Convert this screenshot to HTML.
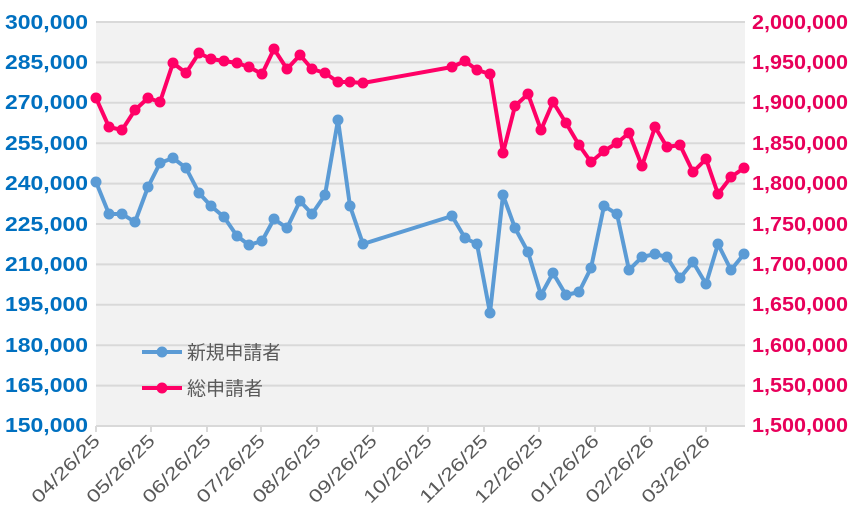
<!DOCTYPE html>
<html><head><meta charset="utf-8"><style>
html,body{margin:0;padding:0;background:#fff;}
svg{display:block;}
.l{font:bold 20px "Liberation Sans",sans-serif;fill:#0070C0;}
.r{font:bold 20px "Liberation Sans",sans-serif;fill:#E8005A;}
.x{font:18px "Liberation Sans",sans-serif;fill:#595959;}
.lg{font:19px "Liberation Sans","Noto Sans CJK JP",sans-serif;fill:#595959;}
</style></head><body>
<svg width="851" height="520" viewBox="0 0 851 520">
<rect x="96" y="22" width="649" height="404" fill="#f2f2f2"/>
<g stroke="#d9d9d9" stroke-width="2">
<line x1="96" y1="22" x2="745" y2="22"/><line x1="96" y1="62.4" x2="745" y2="62.4"/><line x1="96" y1="102.8" x2="745" y2="102.8"/><line x1="96" y1="143.2" x2="745" y2="143.2"/><line x1="96" y1="183.6" x2="745" y2="183.6"/><line x1="96" y1="224" x2="745" y2="224"/><line x1="96" y1="264.4" x2="745" y2="264.4"/><line x1="96" y1="304.8" x2="745" y2="304.8"/><line x1="96" y1="345.2" x2="745" y2="345.2"/><line x1="96" y1="385.6" x2="745" y2="385.6"/><line x1="96" y1="426" x2="745" y2="426"/>
<line x1="96" y1="426" x2="96" y2="432"/><line x1="151" y1="426" x2="151" y2="432"/><line x1="207" y1="426" x2="207" y2="432"/><line x1="261" y1="426" x2="261" y2="432"/><line x1="317" y1="426" x2="317" y2="432"/><line x1="373" y1="426" x2="373" y2="432"/><line x1="428" y1="426" x2="428" y2="432"/><line x1="484" y1="426" x2="484" y2="432"/><line x1="539" y1="426" x2="539" y2="432"/><line x1="595" y1="426" x2="595" y2="432"/><line x1="650" y1="426" x2="650" y2="432"/><line x1="706" y1="426" x2="706" y2="432"/>
</g>
<g class="l">
<text x="5" y="29" textLength="83" lengthAdjust="spacingAndGlyphs">300,000</text><text x="5" y="69" textLength="83" lengthAdjust="spacingAndGlyphs">285,000</text><text x="5" y="109" textLength="83" lengthAdjust="spacingAndGlyphs">270,000</text><text x="5" y="150" textLength="83" lengthAdjust="spacingAndGlyphs">255,000</text><text x="5" y="190" textLength="83" lengthAdjust="spacingAndGlyphs">240,000</text><text x="5" y="231" textLength="83" lengthAdjust="spacingAndGlyphs">225,000</text><text x="5" y="271" textLength="83" lengthAdjust="spacingAndGlyphs">210,000</text><text x="5" y="311" textLength="83" lengthAdjust="spacingAndGlyphs">195,000</text><text x="5" y="352" textLength="83" lengthAdjust="spacingAndGlyphs">180,000</text><text x="5" y="392" textLength="83" lengthAdjust="spacingAndGlyphs">165,000</text><text x="5" y="432" textLength="83" lengthAdjust="spacingAndGlyphs">150,000</text>
</g>
<g class="r">
<text x="752" y="29" textLength="96" lengthAdjust="spacingAndGlyphs">2,000,000</text><text x="752" y="69" textLength="96" lengthAdjust="spacingAndGlyphs">1,950,000</text><text x="752" y="109" textLength="96" lengthAdjust="spacingAndGlyphs">1,900,000</text><text x="752" y="150" textLength="96" lengthAdjust="spacingAndGlyphs">1,850,000</text><text x="752" y="190" textLength="96" lengthAdjust="spacingAndGlyphs">1,800,000</text><text x="752" y="231" textLength="96" lengthAdjust="spacingAndGlyphs">1,750,000</text><text x="752" y="271" textLength="96" lengthAdjust="spacingAndGlyphs">1,700,000</text><text x="752" y="311" textLength="96" lengthAdjust="spacingAndGlyphs">1,650,000</text><text x="752" y="352" textLength="96" lengthAdjust="spacingAndGlyphs">1,600,000</text><text x="752" y="392" textLength="96" lengthAdjust="spacingAndGlyphs">1,550,000</text><text x="752" y="432" textLength="96" lengthAdjust="spacingAndGlyphs">1,500,000</text>
</g>
<g class="x" text-anchor="end">
<text transform="translate(101,442) rotate(-45)" textLength="88" lengthAdjust="spacingAndGlyphs">04/26/25</text><text transform="translate(156,442) rotate(-45)" textLength="88" lengthAdjust="spacingAndGlyphs">05/26/25</text><text transform="translate(212,442) rotate(-45)" textLength="88" lengthAdjust="spacingAndGlyphs">06/26/25</text><text transform="translate(266,442) rotate(-45)" textLength="88" lengthAdjust="spacingAndGlyphs">07/26/25</text><text transform="translate(322,442) rotate(-45)" textLength="88" lengthAdjust="spacingAndGlyphs">08/26/25</text><text transform="translate(378,442) rotate(-45)" textLength="88" lengthAdjust="spacingAndGlyphs">09/26/25</text><text transform="translate(433,442) rotate(-45)" textLength="88" lengthAdjust="spacingAndGlyphs">10/26/25</text><text transform="translate(489,442) rotate(-45)" textLength="88" lengthAdjust="spacingAndGlyphs">11/26/25</text><text transform="translate(544,442) rotate(-45)" textLength="88" lengthAdjust="spacingAndGlyphs">12/26/25</text><text transform="translate(600,442) rotate(-45)" textLength="88" lengthAdjust="spacingAndGlyphs">01/26/26</text><text transform="translate(655,442) rotate(-45)" textLength="88" lengthAdjust="spacingAndGlyphs">02/26/26</text><text transform="translate(711,442) rotate(-45)" textLength="88" lengthAdjust="spacingAndGlyphs">03/26/26</text>
</g>
<g stroke="#5B9BD5" fill="#5B9BD5">
<polyline fill="none" stroke-width="4" stroke-linejoin="round" points="96,182 109,214 122,214 135,222 148,187 160,163 173,158 186,168 199,193 211,206 224,217 237,236 249,245 262,241 274,219 287,228 300,201 312,214 325,195 338,120 350,206 363,244 452,216 465,238 477,244 490,313 503,195 515,228 528,252 541,295 553,273 566,295 579,292 591,268 604,206 617,214 629,270 642,257 655,254 667,257 680,278 693,262 706,284 718,244 731,270 744,254"/>
</g>
<g stroke="#FF0066" fill="#FF0066">
<polyline fill="none" stroke-width="4" stroke-linejoin="round" points="96,98 109,127 122,130 135,110 148,98 160,102 173,63 186,73 199,53 211,59 224,61 237,63 249,67 262,74 274,49 287,69 300,55 312,69 325,73 338,82 350,82 363,83 452,67 465,61 477,70 490,74 503,153 515,106 528,94 541,130 553,102 566,123 579,145 591,162 604,151 617,143 629,133 642,166 655,127 667,147 680,145 693,172 706,159 718,194 731,177 744,168"/>
</g>
<line x1="142" y1="352" x2="182" y2="352" stroke="#5B9BD5" stroke-width="4"/><circle cx="162" cy="352" r="5.5" fill="#5B9BD5"/>
<text class="lg" x="187" y="359" textLength="94" lengthAdjust="spacingAndGlyphs">新規申請者</text>
<line x1="142" y1="388" x2="182" y2="388" stroke="#FF0066" stroke-width="4"/><circle cx="162" cy="388" r="5.5" fill="#FF0066"/>
<text class="lg" x="187" y="395" textLength="76" lengthAdjust="spacingAndGlyphs">総申請者</text>
<script>
function dots(pts,c){var s=document.querySelector('svg');pts.trim().split(/\s+/).forEach(function(p){var a=p.split(',');var e=document.createElementNS('http://www.w3.org/2000/svg','circle');e.setAttribute('cx',a[0]);e.setAttribute('cy',a[1]);e.setAttribute('r','5.5');e.setAttribute('fill',c);s.appendChild(e);});}
var pl=document.querySelectorAll('polyline');
dots(pl[0].getAttribute('points'),'#5B9BD5');
dots(pl[1].getAttribute('points'),'#FF0066');
</script>
</svg>
</body></html>
